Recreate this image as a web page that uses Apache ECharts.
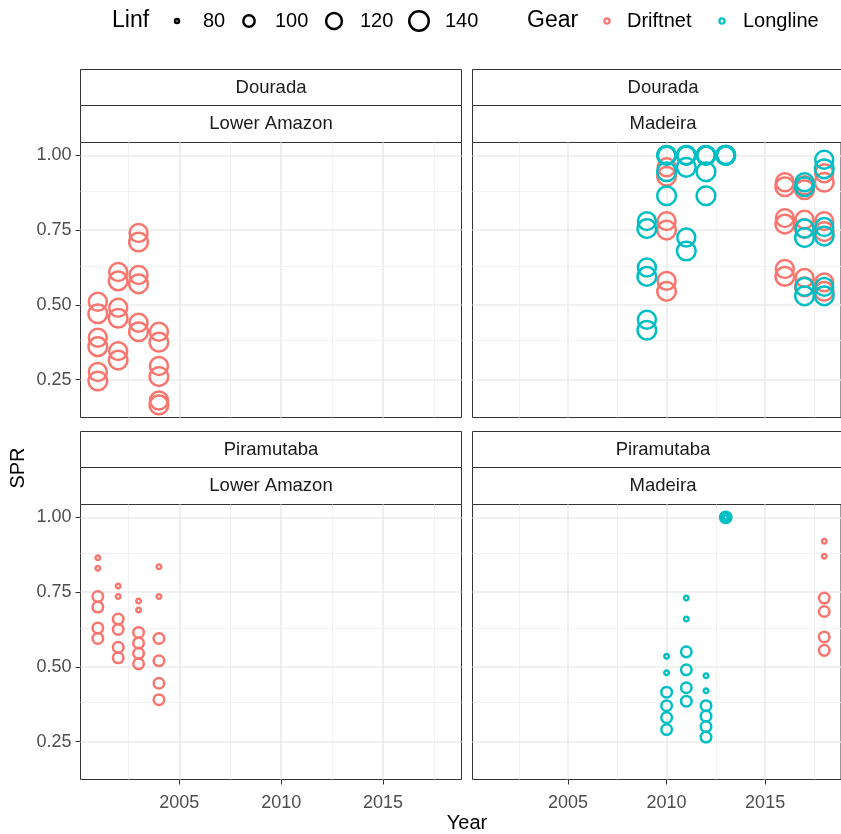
<!DOCTYPE html>
<html>
<head>
<meta charset="utf-8">
<script src="https://cdn.jsdelivr.net/npm/echarts@6/dist/echarts.min.js"></script>
<style>
  html, body { margin: 0; padding: 0; background: #fff; }
  #chart { width: 841px; height: 834px; }
</style>
</head>
<body>
<div id="chart"></div>
<script>
// SPR estimates per year, one array per species / region / gear.
// Each entry is [year, SPR, Linf].
const douradaLowerAmazonDriftnet = [
  [2001, 0.51, 131], [2001, 0.47, 135], [2001, 0.39, 131], [2001, 0.36, 135], [2001, 0.275, 131], [2001, 0.245, 135],
  [2002, 0.61, 131], [2002, 0.58, 135], [2002, 0.49, 131], [2002, 0.455, 135], [2002, 0.345, 131], [2002, 0.315, 135],
  [2003, 0.74, 131], [2003, 0.71, 135], [2003, 0.60, 131], [2003, 0.57, 135], [2003, 0.44, 131], [2003, 0.41, 135],
  [2004, 0.41, 131], [2004, 0.375, 135], [2004, 0.295, 131], [2004, 0.26, 135], [2004, 0.18, 131], [2004, 0.165, 135]
];
const douradaMadeiraDriftnet = [
  [2010, 0.96, 131], [2010, 0.93, 135], [2010, 0.78, 131], [2010, 0.75, 135], [2010, 0.58, 131], [2010, 0.545, 135],
  [2016, 0.91, 131], [2016, 0.895, 135], [2016, 0.79, 131], [2016, 0.77, 135], [2016, 0.62, 131], [2016, 0.595, 135],
  [2017, 0.90, 131], [2017, 0.885, 135], [2017, 0.785, 131], [2017, 0.755, 135], [2017, 0.59, 131], [2017, 0.56, 135],
  [2018, 0.94, 131], [2018, 0.91, 135], [2018, 0.78, 131], [2018, 0.745, 135], [2018, 0.575, 131], [2018, 0.545, 135]
];
const douradaMadeiraLongline = [
  [2009, 0.78, 131], [2009, 0.755, 135], [2009, 0.625, 131], [2009, 0.595, 135], [2009, 0.45, 131], [2009, 0.415, 135],
  [2010, 1.00, 131], [2010, 1.00, 135], [2010, 1.00, 131], [2010, 0.945, 135], [2010, 1.00, 131], [2010, 0.865, 135],
  [2011, 1.00, 131], [2011, 1.00, 135], [2011, 1.00, 131], [2011, 0.96, 135], [2011, 0.725, 131], [2011, 0.68, 135],
  [2012, 1.00, 131], [2012, 1.00, 135], [2012, 1.00, 131], [2012, 0.945, 135], [2012, 1.00, 131], [2012, 0.865, 135],
  [2013, 1.00, 131], [2013, 1.00, 135], [2013, 1.00, 131], [2013, 1.00, 135], [2013, 1.00, 131], [2013, 1.00, 135],
  [2017, 0.91, 131], [2017, 0.895, 135], [2017, 0.755, 131], [2017, 0.725, 135], [2017, 0.56, 131], [2017, 0.53, 135],
  [2018, 0.985, 131], [2018, 0.955, 135], [2018, 0.76, 131], [2018, 0.73, 135], [2018, 0.56, 131], [2018, 0.53, 135]
];
const piramutabaLowerAmazonDriftnet = [
  [2001, 0.865, 81], [2001, 0.83, 81], [2001, 0.735, 97], [2001, 0.70, 97], [2001, 0.63, 97], [2001, 0.595, 97],
  [2002, 0.77, 81], [2002, 0.735, 81], [2002, 0.66, 97], [2002, 0.625, 97], [2002, 0.565, 97], [2002, 0.53, 97],
  [2003, 0.72, 81], [2003, 0.69, 81], [2003, 0.615, 97], [2003, 0.58, 97], [2003, 0.545, 97], [2003, 0.51, 97],
  [2004, 0.835, 81], [2004, 0.735, 81], [2004, 0.595, 97], [2004, 0.52, 97], [2004, 0.445, 97], [2004, 0.39, 97]
];
const piramutabaMadeiraDriftnet = [
  [2018, 0.92, 81], [2018, 0.87, 81], [2018, 0.73, 97], [2018, 0.685, 97], [2018, 0.60, 97], [2018, 0.555, 97]
];
const piramutabaMadeiraLongline = [
  [2010, 0.535, 81], [2010, 0.48, 81], [2010, 0.415, 97], [2010, 0.37, 97], [2010, 0.33, 97], [2010, 0.29, 97],
  [2011, 0.73, 81], [2011, 0.66, 81], [2011, 0.55, 97], [2011, 0.49, 97], [2011, 0.43, 97], [2011, 0.385, 97],
  [2012, 0.47, 81], [2012, 0.42, 81], [2012, 0.37, 97], [2012, 0.335, 97], [2012, 0.30, 97], [2012, 0.265, 97],
  [2013, 1.00, 81], [2013, 1.00, 81], [2013, 1.00, 87], [2013, 1.00, 92], [2013, 1.00, 97], [2013, 1.00, 100]
];

// Facet labels and axis breaks
const panels = [
  { species: 'Dourada',    region: 'Lower Amazon', series: { Driftnet: douradaLowerAmazonDriftnet } },
  { species: 'Dourada',    region: 'Madeira',      series: { Driftnet: douradaMadeiraDriftnet, Longline: douradaMadeiraLongline } },
  { species: 'Piramutaba', region: 'Lower Amazon', series: { Driftnet: piramutabaLowerAmazonDriftnet } },
  { species: 'Piramutaba', region: 'Madeira',      series: { Driftnet: piramutabaMadeiraDriftnet, Longline: piramutabaMadeiraLongline } }
];
const gears = ['Driftnet', 'Longline'];
const linfBreaks = [80, 100, 120, 140];
const yearBreaks = [2005, 2010, 2015];
const yearMinorBreaks = [2002.5, 2007.5, 2012.5, 2017.5];
const sprBreaks = [0.25, 0.5, 0.75, 1.0];
const sprMinorBreaks = [0.375, 0.625, 0.875];
const yearLimits = [2000.15, 2018.85];
const sprLimits = [0.123, 1.043];

// Styling
const FONT = '"Liberation Sans", Arial, sans-serif';
const GEAR_COLOR = { Driftnet: '#F8766D', Longline: '#00BFC4' };
const STROKE = 2.5;
const PANEL_W = 381, PANEL_H = 275, STRIP_H = [36, 37];
const COL_X = [80.5, 472.5];
const ROW_Y = [142.5, 504.5];

// Ring size grows with the square root of Linf (area scale)
function ringOuter(linf) {
  return 0.55 + 2.66 * Math.sqrt(linf - 75);
}
function symbolSizeFor(linf) {
  return Math.max(ringOuter(linf) - STROKE, 1);
}

const grids = [], xAxes = [], yAxes = [], series = [], graphics = [];
const MAJOR = { color: '#ebebeb', width: 1.6, type: 'solid' };
const MINOR = { color: '#f0f0f0', width: 0.9, type: 'solid' };

panels.forEach((p, i) => {
  const col = i % 2, row = Math.floor(i / 2);
  const left = COL_X[col], top = ROW_Y[row];
  grids.push({ left: left, top: top, width: PANEL_W, height: PANEL_H, show: true,
    borderColor: '#333333', borderWidth: 1, backgroundColor: 'transparent', containLabel: false });
  const isBottom = row === 1, isLeft = col === 0;
  xAxes.push({
    type: 'value', gridIndex: i, min: yearLimits[0], max: yearLimits[1],
    axisLine: { show: false }, splitLine: { show: false },
    axisTick: { show: isBottom, customValues: yearBreaks, length: 5, lineStyle: { color: '#333333', width: 1 } },
    axisLabel: { show: isBottom, customValues: yearBreaks, margin: 15, color: '#4d4d4d', fontSize: 18, fontFamily: FONT,
      formatter: v => String(v) }
  });
  yAxes.push({
    type: 'value', gridIndex: i, min: sprLimits[0], max: sprLimits[1],
    axisLine: { show: false }, splitLine: { show: false },
    axisTick: { show: isLeft, customValues: sprBreaks, length: 5, lineStyle: { color: '#333333', width: 1 } },
    axisLabel: { show: isLeft, customValues: sprBreaks, margin: 9, color: '#4d4d4d', fontSize: 18, fontFamily: FONT,
      formatter: v => v.toFixed(2) }
  });
  // panel grid lines
  series.push({
    type: 'scatter', name: 'panel-grid', xAxisIndex: i, yAxisIndex: i, data: [], silent: true, z: 0,
    markLine: {
      silent: true, symbol: 'none', animation: false, z: 0, label: { show: false },
      emphasis: { disabled: true },
      data: [
        ...yearMinorBreaks.map(v => ({ xAxis: v, lineStyle: MINOR })),
        ...sprMinorBreaks.map(v => ({ yAxis: v, lineStyle: MINOR })),
        ...yearBreaks.map(v => ({ xAxis: v, lineStyle: MAJOR })),
        ...sprBreaks.map(v => ({ yAxis: v, lineStyle: MAJOR }))
      ]
    }
  });
  gears.forEach(g => {
    if (!p.series[g]) return;
    series.push({
      type: 'scatter', name: g, xAxisIndex: i, yAxisIndex: i, z: 2,
      data: p.series[g],
      symbol: 'circle',
      symbolSize: d => symbolSizeFor(d[2]),
      itemStyle: { color: 'rgba(0,0,0,0)', borderColor: GEAR_COLOR[g], borderWidth: STROKE, opacity: 1 },
      emphasis: { disabled: true },
      animation: false
    });
  });
  // facet strips
  const stripTop = top - STRIP_H[0] - STRIP_H[1];
  [p.species, p.region].forEach((label, k) => {
    const y = k === 0 ? stripTop : stripTop + STRIP_H[0];
    const h = STRIP_H[k];
    graphics.push({ type: 'rect', shape: { x: left, y: y, width: PANEL_W, height: h },
      style: { fill: '#ffffff', stroke: '#333333', lineWidth: 1 }, silent: true });
    graphics.push({ type: 'text', x: left + PANEL_W / 2, y: y + h / 2,
      style: { text: label, fill: '#1a1a1a', font: '18.5px ' + FONT, align: 'center', verticalAlign: 'middle' }, silent: true });
  });
});

// axis titles
graphics.push({ type: 'text', x: 18, y: 468, rotation: Math.PI / 2,
  style: { text: 'SPR', fill: '#000', font: '20px ' + FONT, align: 'center', verticalAlign: 'middle' } });
graphics.push({ type: 'text', x: 467, y: 823,
  style: { text: 'Year', fill: '#000', font: '20px ' + FONT, align: 'center', verticalAlign: 'middle' } });

// Linf size legend
graphics.push({ type: 'text', x: 112, y: 21,
  style: { text: 'Linf', fill: '#000', font: '23px ' + FONT, align: 'left', verticalAlign: 'middle' } });
const linfKeyX = [177, 249, 334, 419];
const linfLabelX = [203, 275, 360, 445];
linfBreaks.forEach((v, k) => {
  graphics.push({ type: 'circle', shape: { cx: linfKeyX[k], cy: 21, r: symbolSizeFor(v) / 2 },
    style: { fill: 'none', stroke: '#000', lineWidth: STROKE } });
  graphics.push({ type: 'text', x: linfLabelX[k], y: 21,
    style: { text: String(v), fill: '#000', font: '20px ' + FONT, align: 'left', verticalAlign: 'middle' } });
});

// Gear colour legend
graphics.push({ type: 'text', x: 527, y: 21,
  style: { text: 'Gear', fill: '#000', font: '23px ' + FONT, align: 'left', verticalAlign: 'middle' } });
const gearKeyX = [607, 722];
const gearLabelX = [627, 743];
gears.forEach((g, k) => {
  graphics.push({ type: 'circle', shape: { cx: gearKeyX[k], cy: 21, r: 2.6 },
    style: { fill: 'none', stroke: GEAR_COLOR[g], lineWidth: 2.2 } });
  graphics.push({ type: 'text', x: gearLabelX[k], y: 21,
    style: { text: g, fill: '#000', font: '20px ' + FONT, align: 'left', verticalAlign: 'middle' } });
});

const chart = echarts.init(document.getElementById('chart'), null, { renderer: 'canvas' });
chart.setOption({
  animation: false,
  backgroundColor: '#ffffff',
  grid: grids,
  xAxis: xAxes,
  yAxis: yAxes,
  series: series,
  graphic: graphics
});
</script>
</body>
</html>
